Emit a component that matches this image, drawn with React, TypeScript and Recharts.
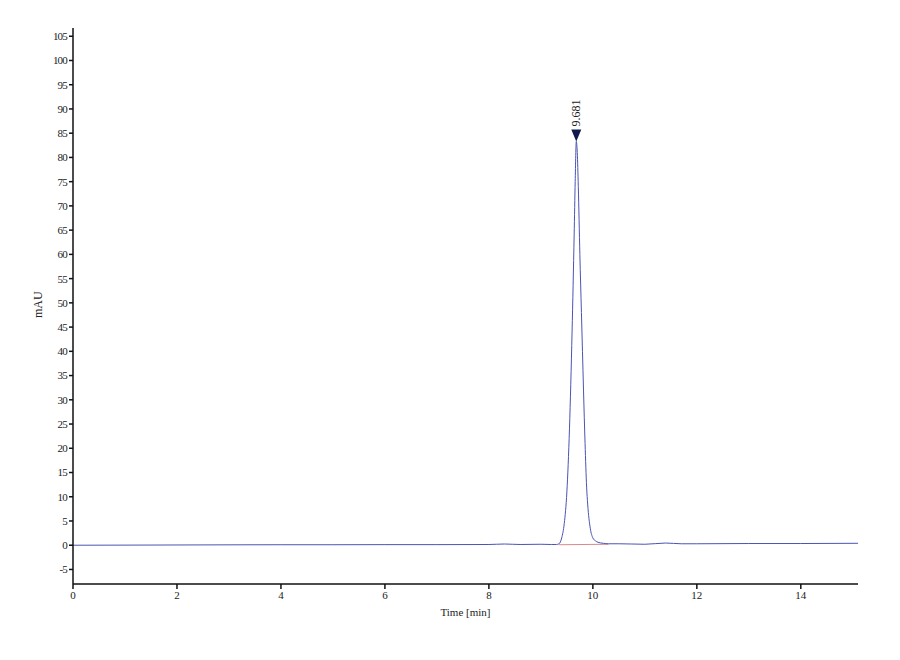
import { LineChart, Line, XAxis, YAxis, ReferenceDot } from 'recharts'

// retention time (min) and absorbance (mAU)
const times = [
  0, 1, 2, 3, 4, 5, 6, 7, 8, 8.3, 8.6, 9, 9.2, 9.3, 9.35, 9.4, 9.45, 9.5, 9.55, 9.6, 9.64, 9.66, 9.681,
  9.7, 9.72, 9.75, 9.78, 9.8, 9.82, 9.85, 9.88, 9.9, 9.95, 10, 10.05, 10.1, 10.2, 10.3, 10.5, 11, 11.4,
  11.7, 12, 13, 14, 15.1
]
const signal = [
  0, 0.02, 0.05, 0.08, 0.1, 0.1, 0.12, 0.12, 0.15, 0.25, 0.15, 0.2, 0.15, 0.15, 0.3, 1.5, 4.5, 11, 24, 44,
  64, 75, 83.3, 81, 74, 60, 48, 40, 32, 21, 12, 8.5, 3.5, 1.5, 0.9, 0.6, 0.4, 0.3, 0.3, 0.2, 0.45, 0.3,
  0.3, 0.35, 0.35, 0.4
]

// integration baseline under the peak
const baseTimes = [9.35, 10.3]
const baseValues = [0.1, 0.2]

const xTicks = [0, 2, 4, 6, 8, 10, 12, 14]
const yTicks = [-5, 0, 5, 10, 15, 20, 25, 30, 35, 40, 45, 50, 55, 60, 65, 70, 75, 80, 85, 90, 95, 100, 105]

const peakTime = 9.681
const peakHeight = 83.3
const peakLabel = '9.681'

const data = times.map((t, i) => ({ t, v: signal[i] }))
const baseData = baseTimes.map((t, i) => ({ t, b: baseValues[i] }))

const font = '"Liberation Serif", "DejaVu Serif", serif'

const PeakMark = (props: any) => {
  const { cx, cy } = props
  return (
    <g>
      <polygon points={`${cx - 5},${cy - 12} ${cx + 5},${cy - 12} ${cx},${cy}`} fill="#101a50" />
      <text
        x={cx}
        y={cy - 15}
        transform={`rotate(-90 ${cx} ${cy - 15})`}
        dy={4}
        fontSize={12}
        fontFamily={font}
        fill="#222"
      >
        {peakLabel}
      </text>
    </g>
  )
}

export default function App() {
  return (
    <div style={{ position: 'absolute', left: 0, top: 0, width: 900, height: 660, background: '#fff' }}>
      <LineChart width={900} height={660} margin={{ top: 28, right: 42, left: 0, bottom: 0 }}>
        <XAxis
          dataKey="t"
          type="number"
          domain={[0, 15.1]}
          ticks={xTicks}
          allowDuplicatedCategory={false}
          allowDataOverflow
          height={76}
          stroke="#111"
          strokeWidth={1.5}
          tickSize={5}
          tick={{ fontSize: 11, fontFamily: font, fill: '#222' }}
          label={{ value: 'Time [min]', position: 'insideTop', offset: 24, fontSize: 11, fontFamily: font, fill: '#222' }}
        />
        <YAxis
          type="number"
          domain={[-8, 106.7]}
          ticks={yTicks}
          width={73}
          allowDataOverflow
          stroke="#111"
          strokeWidth={1.5}
          tickSize={4}
          tick={{ fontSize: 11, fontFamily: font, fill: '#222', letterSpacing: -0.8 }}
          label={{ value: 'mAU', angle: -90, position: 'insideLeft', offset: 38, dy: 12, fontSize: 12, fontFamily: font, fill: '#222' }}
        />
        <Line
          data={baseData}
          dataKey="b"
          type="linear"
          stroke="#d88a8a"
          strokeWidth={1}
          dot={false}
          isAnimationActive={false}
        />
        <Line
          data={data}
          dataKey="v"
          type="monotone"
          stroke="#4a54b4"
          strokeWidth={1}
          dot={false}
          isAnimationActive={false}
        />
        <ReferenceDot x={peakTime} y={peakHeight} r={0} shape={PeakMark} />
      </LineChart>
    </div>
  )
}
